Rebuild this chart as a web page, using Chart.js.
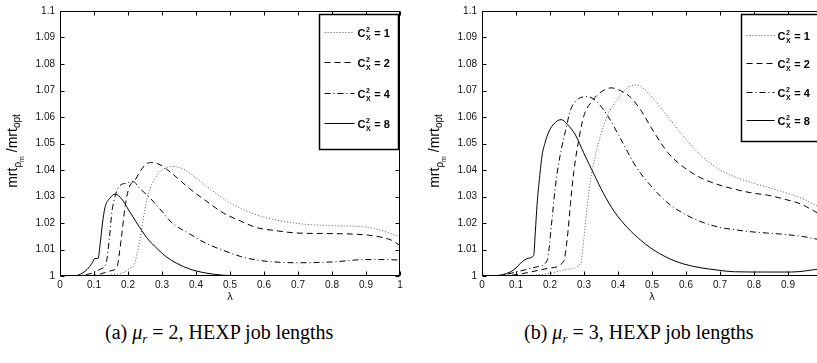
<!DOCTYPE html>
<html>
<head>
<meta charset="utf-8">
<script src="https://cdn.jsdelivr.net/npm/chart.js@4"></script>
<style>
  body { margin: 0; width: 817px; height: 363px; overflow: hidden; position: relative; background: #fff; }
  #panelA { position: absolute; left: 0; top: 0; }
  #panelB { position: absolute; left: 410px; top: 0; }
  .caption { position: absolute; top: 321px; font-family: "Liberation Serif", serif; font-size: 20px; white-space: nowrap; color: #000; line-height: 22px; }
  .caption sub { font-size: 13px; vertical-align: -4px; line-height: 0; }
  #capA { left: 105px; }
  #capB { left: 524px; }
</style>
</head>
<body>
<canvas id="panelA" width="410" height="305"></canvas>
<canvas id="panelB" width="422" height="305"></canvas>
<div class="caption" id="capA">(a) <i>μ<sub>r</sub></i> = 2, HEXP job lengths</div>
<div class="caption" id="capB">(b) <i>μ<sub>r</sub></i> = 3, HEXP job lengths</div>
<script>
// tick labels
const xTicks = [0, 0.1, 0.2, 0.3, 0.4, 0.5, 0.6, 0.7, 0.8, 0.9, 1];
const yTicks = [1, 1.01, 1.02, 1.03, 1.04, 1.05, 1.06, 1.07, 1.08, 1.09, 1.1];
// C_X^2 values (legend)
const cx2Values = ['1', '2', '4', '8'];

// (a) mu_r = 2
const aLam1 = [0, 0.1, 0.15, 0.19, 0.206, 0.218, 0.226, 0.235, 0.243, 0.25, 0.26, 0.27, 0.285, 0.3, 0.33, 0.36, 0.4, 0.45, 0.5, 0.55, 0.6, 0.7, 0.8, 0.9, 0.95, 1];
const aVal1 = [1, 1, 1.0004, 1.0015, 1.003, 1.004, 1.008, 1.0134, 1.02, 1.0253, 1.031, 1.0346, 1.038, 1.040, 1.0413, 1.0405, 1.037, 1.032, 1.0276, 1.0245, 1.0222, 1.0198, 1.019, 1.0185, 1.017, 1.0148];
const aLam2 = [0, 0.08, 0.12, 0.15, 0.168, 0.175, 0.182, 0.191, 0.2, 0.21, 0.22, 0.235, 0.255, 0.27, 0.294, 0.333, 0.38, 0.43, 0.48, 0.53, 0.58, 0.63, 0.7, 0.8, 0.9, 0.95, 0.975, 1];
const aVal2 = [1, 1, 1.0008, 1.002, 1.0035, 1.009, 1.016, 1.0257, 1.032, 1.035, 1.036, 1.0394, 1.0424, 1.0428, 1.042, 1.0383, 1.0331, 1.0283, 1.0238, 1.0208, 1.0182, 1.0172, 1.0162, 1.016, 1.0155, 1.0145, 1.0135, 1.0115];
const aLam4 = [0, 0.05, 0.08, 0.1, 0.12, 0.135, 0.145, 0.153, 0.162, 0.17, 0.18, 0.196, 0.214, 0.235, 0.265, 0.294, 0.33, 0.38, 0.43, 0.48, 0.53, 0.58, 0.63, 0.7, 0.8, 0.9, 0.95, 1];
const aVal4 = [1, 1, 1.0006, 1.0013, 1.0027, 1.0045, 1.014, 1.0245, 1.030, 1.033, 1.0345, 1.035, 1.0357, 1.033, 1.0294, 1.0253, 1.020, 1.016, 1.0123, 1.0097, 1.0074, 1.006, 1.0053, 1.005, 1.0053, 1.0062, 1.0062, 1.006];
const aLam8 = [0, 0.04, 0.06, 0.08, 0.095, 0.102, 0.112, 0.118, 0.125, 0.132, 0.147, 0.162, 0.182, 0.2, 0.226, 0.255, 0.285, 0.314, 0.343, 0.382, 0.43, 0.48, 0.55, 0.65, 0.8, 0.9, 1];
const aVal8 = [1, 1, 1.0007, 1.0025, 1.005, 1.0066, 1.0066, 1.012, 1.02, 1.0257, 1.0294, 1.0309, 1.029, 1.0253, 1.020, 1.0145, 1.0104, 1.0071, 1.0048, 1.0026, 1.0011, 1.0003, 1, 1, 1, 1, 1];

// (b) mu_r = 3
const bLam1 = [0, 0.1, 0.15, 0.2, 0.25, 0.29, 0.3, 0.31, 0.32, 0.334, 0.349, 0.369, 0.398, 0.428, 0.455, 0.497, 0.547, 0.594, 0.644, 0.694, 0.742, 0.791, 0.84, 0.889, 0.939, 0.97, 1];
const bVal1 = [1, 1, 1.0003, 1.001, 1.0025, 1.0048, 1.0145, 1.027, 1.0368, 1.0457, 1.0532, 1.0606, 1.0665, 1.071, 1.0721, 1.068, 1.060, 1.0525, 1.0455, 1.0405, 1.0375, 1.0353, 1.0335, 1.0316, 1.0294, 1.0275, 1.0255];
const bLam2 = [0, 0.1, 0.142, 0.2, 0.24, 0.251, 0.26, 0.27, 0.285, 0.3, 0.32, 0.34, 0.36, 0.379, 0.408, 0.438, 0.47, 0.5, 0.547, 0.594, 0.644, 0.694, 0.742, 0.791, 0.84, 0.889, 0.939, 0.97, 1];
const bVal2 = [1, 1.0005, 1.0015, 1.003, 1.0055, 1.0145, 1.027, 1.0394, 1.0517, 1.0606, 1.0654, 1.0684, 1.0702, 1.071, 1.0699, 1.0673, 1.062, 1.0555, 1.0465, 1.041, 1.037, 1.0345, 1.0328, 1.0314, 1.0305, 1.029, 1.0271, 1.025, 1.0228];
const bLam4 = [0, 0.06, 0.113, 0.163, 0.192, 0.204, 0.216, 0.229, 0.246, 0.26, 0.284, 0.31, 0.334, 0.369, 0.408, 0.453, 0.497, 0.547, 0.594, 0.644, 0.694, 0.742, 0.791, 0.84, 0.889, 0.939, 1];
const bVal4 = [1, 1.0004, 1.0019, 1.0035, 1.006, 1.019, 1.034, 1.045, 1.055, 1.0625, 1.0669, 1.0677, 1.0662, 1.0606, 1.0517, 1.0412, 1.034, 1.0275, 1.0235, 1.0205, 1.0185, 1.0175, 1.0167, 1.0162, 1.0157, 1.015, 1.0135];
const bLam8 = [0, 0.04, 0.06, 0.083, 0.1, 0.113, 0.137, 0.152, 0.157, 0.162, 0.17, 0.177, 0.186, 0.196, 0.216, 0.233, 0.251, 0.275, 0.299, 0.329, 0.358, 0.388, 0.428, 0.467, 0.497, 0.547, 0.594, 0.644, 0.694, 0.742, 0.84, 0.91, 1];
const bVal8 = [1, 1, 1.0005, 1.0015, 1.003, 1.0048, 1.0067, 1.0078, 1.017, 1.027, 1.038, 1.0457, 1.0505, 1.0543, 1.058, 1.059, 1.0572, 1.0532, 1.0465, 1.0385, 1.031, 1.0245, 1.0182, 1.0135, 1.0105, 1.0068, 1.0045, 1.0031, 1.0022, 1.0016, 1.0015, 1.0015, 1.0028];

const lineColors = ['#555', '#000', '#000', '#000'];
const lineDashes = [[1, 2], [6, 4], [6, 3, 1, 3], []];

Chart.defaults.font.family = '"Liberation Sans", Arial, sans-serif';

// MATLAB-like box, inward ticks, y label with subscripts and legend box
const matlabBox = {
    id: 'matlabBox',
    afterDraw(chart, args, opts) {
        const ctx = chart.ctx;
        const a = chart.chartArea;
        const xs = chart.scales.x, ys = chart.scales.y;
        const L = Math.round(a.left) + 0.5, R = Math.round(a.right) - 0.5;
        const T = Math.round(a.top) + 0.5, B = Math.round(a.bottom) - 0.5;
        ctx.save();
        ctx.strokeStyle = '#000';
        ctx.lineWidth = 1;
        ctx.setLineDash([]);
        ctx.strokeRect(L, T, R - L, B - T);
        ctx.beginPath();
        xTicks.forEach(v => {
            const p = Math.round(xs.getPixelForValue(v)) + 0.5;
            ctx.moveTo(p, B); ctx.lineTo(p, B - 4);
            ctx.moveTo(p, T); ctx.lineTo(p, T + 4);
        });
        yTicks.forEach(v => {
            const p = Math.round(ys.getPixelForValue(v)) + 0.5;
            ctx.moveTo(L, p); ctx.lineTo(L + 4, p);
            ctx.moveTo(R, p); ctx.lineTo(R - 4, p);
        });
        ctx.stroke();

        // y axis title: mrt_{rho_m} / mrt_opt
        const parts = [
            { t: 'mrt', size: 14, dy: 0 },
            { t: 'ρ', size: 10, dy: 4 },
            { t: 'm', size: 7, dy: 7 },
            { t: ' /mrt', size: 14, dy: 0 },
            { t: 'opt', size: 10, dy: 3 }
        ];
        const fam = '"Liberation Sans", Arial, sans-serif';
        let total = 0;
        parts.forEach(p => { ctx.font = p.size + 'px ' + fam; p.w = ctx.measureText(p.t).width; total += p.w; });
        ctx.translate(a.left - 43, 151);
        ctx.rotate(-Math.PI / 2);
        ctx.fillStyle = '#000';
        ctx.textBaseline = 'alphabetic';
        let u = -total / 2;
        parts.forEach(p => {
            ctx.font = p.size + 'px ' + fam;
            ctx.fillText(p.t, u, p.dy);
            u += p.w;
        });
        ctx.setTransform(1, 0, 0, 1, 0, 0);

        // legend box
        const bw = 79, bh = opts.boxH;
        const bx = Math.round(a.right) - 2 - bw + 0.5, by = Math.round(a.top) + 3 + 0.5;
        ctx.fillStyle = '#fff';
        ctx.fillRect(bx, by, bw, bh);
        ctx.strokeStyle = '#000';
        ctx.lineWidth = 1.5;
        ctx.strokeRect(bx, by, bw, bh);
        chart.data.datasets.forEach((ds, i) => {
            const y = Math.round(by + opts.rowTop + i * opts.rowGap) + 0.5;
            ctx.beginPath();
            ctx.strokeStyle = ds.borderColor;
            ctx.lineWidth = 1;
            ctx.setLineDash(ds.borderDash);
            ctx.moveTo(bx + 5, y);
            ctx.lineTo(bx + 5 + opts.sampleW, y);
            ctx.stroke();
            ctx.setLineDash([]);
            ctx.fillStyle = '#000';
            let tx = bx + 8 + opts.sampleW;
            ctx.font = 'bold 11px ' + fam;
            ctx.fillText('C', tx, y + 4);
            tx += ctx.measureText('C').width + 0.5;
            ctx.font = 'bold 7px ' + fam;
            ctx.fillText('2', tx, y - 1);
            ctx.fillText('X', tx, y + 7);
            tx += ctx.measureText('X').width + 0.5;
            ctx.font = 'bold 11px ' + fam;
            ctx.fillText(' = ' + cx2Values[i], tx, y + 4);
        });
        ctx.restore();
    }
};

function makeChart(id, lams, vals, yWidth, legendOpts) {
    return new Chart(document.getElementById(id), {
        type: 'line',
        data: {
            datasets: cx2Values.map((n, i) => ({
                label: 'C_X^2 = ' + n,
                data: lams[i].map((x, j) => ({ x: x, y: vals[i][j] })),
                borderColor: lineColors[i],
                borderDash: lineDashes[i],
                borderWidth: 1,
                pointRadius: 0,
                fill: false,
                cubicInterpolationMode: 'monotone'
            }))
        },
        options: {
            responsive: false,
            animation: false,
            devicePixelRatio: 1,
            layout: { padding: { top: 7, right: 10, bottom: 0, left: 0 } },
            plugins: {
                legend: { display: false },
                tooltip: { enabled: false },
                matlabBox: legendOpts
            },
            scales: {
                x: {
                    type: 'linear', min: 0, max: 1,
                    grid: { display: false, drawTicks: false },
                    border: { display: false },
                    afterBuildTicks: s => { s.ticks = xTicks.map(v => ({ value: v })); },
                    afterFit: s => { s.height = 29; },
                    ticks: {
                        autoSkip: false, maxRotation: 0, padding: 3,
                        font: { size: 10 }, color: '#111',
                        callback: v => String(+v.toFixed(2))
                    },
                    title: { display: true, text: 'λ', font: { size: 11 }, color: '#111', padding: { top: 0, bottom: 1 } }
                },
                y: {
                    type: 'linear', min: 1, max: 1.1,
                    grid: { display: false, drawTicks: false },
                    border: { display: false },
                    afterBuildTicks: s => { s.ticks = yTicks.map(v => ({ value: v })); },
                    afterFit: s => { s.width = yWidth; },
                    ticks: {
                        autoSkip: false, padding: 5,
                        font: { size: 10 }, color: '#111',
                        callback: v => String(+v.toFixed(2))
                    }
                }
            }
        },
        plugins: [matlabBox]
    });
}

makeChart('panelA', [aLam1, aLam2, aLam4, aLam8], [aVal1, aVal2, aVal4, aVal8], 60,
    { boxH: 135, rowTop: 17, rowGap: 30.5, sampleW: 30 });
makeChart('panelB', [bLam1, bLam2, bLam4, bLam8], [bVal1, bVal2, bVal4, bVal8], 72,
    { boxH: 127, rowTop: 20, rowGap: 28.5, sampleW: 28 });
</script>
</body>
</html>
